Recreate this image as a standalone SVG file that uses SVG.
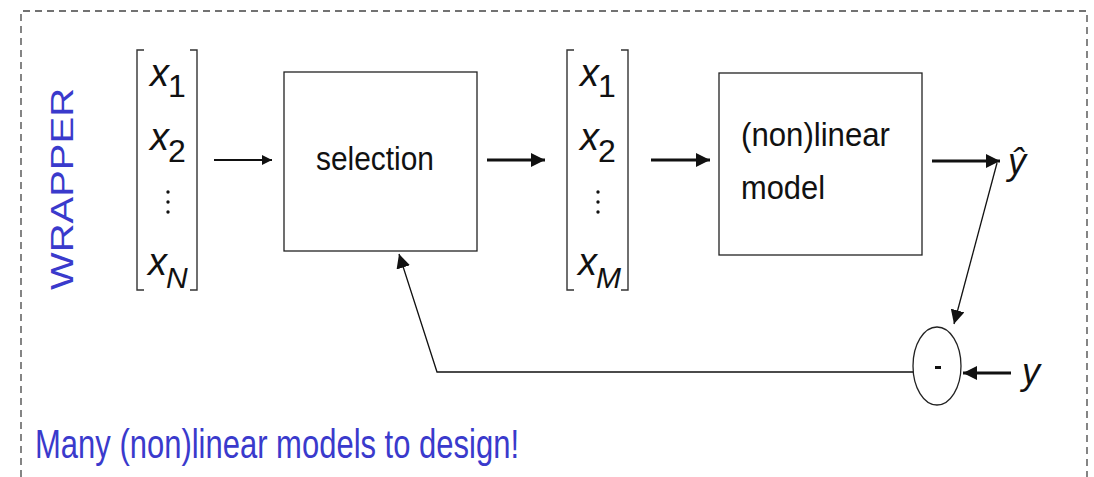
<svg xmlns="http://www.w3.org/2000/svg" width="1094" height="477" viewBox="0 0 1094 477">
  <style>
    .frame { fill: none; stroke: #444; stroke-width: 1.3; stroke-dasharray: 7 5; }
    .box { fill: #fff; stroke: #222; stroke-width: 1.3; }
    .brk { fill: none; stroke: #333; stroke-width: 1.4; }
    .lbl { font-family: "Liberation Sans", Arial, sans-serif; fill: #111; }
    .math { font-family: "Liberation Sans", Arial, sans-serif; font-style: italic; fill: #111; }
    .sub { font-family: "Liberation Sans", Arial, sans-serif; font-style: normal; fill: #111; }
    .blue { font-family: "Liberation Sans", Arial, sans-serif; fill: #3a3acc; }
    .wire { fill: none; stroke: #111; }
  </style>
  <defs>
    <marker id="ah" viewBox="0 0 10 10" refX="10" refY="5" markerWidth="10" markerHeight="10" markerUnits="userSpaceOnUse" orient="auto">
      <path d="M0,0 L10,5 L0,10 Z" fill="#111"/>
    </marker>
    <marker id="ahBig" viewBox="0 0 10 10" refX="10" refY="5" markerWidth="14" markerHeight="14" markerUnits="userSpaceOnUse" orient="auto">
      <path d="M0,0 L10,5 L0,10 Z" fill="#111"/>
    </marker>
  </defs>

  <rect width="1094" height="477" fill="#fff"/>

  <!-- dashed wrapper frame, open at the bottom -->
  <path class="frame" d="M21,477 L21,11 L1087,11 L1087,477"/>

  <text class="blue" font-size="31" transform="translate(73,290) rotate(-90)" textLength="202" lengthAdjust="spacingAndGlyphs">WRAPPER</text>

  <!-- input feature vector -->
  <g id="input-vector">
    <path class="brk" d="M144,50 L137,50 L137,290 L144,290"/>
    <path class="brk" d="M190,50 L197,50 L197,290 L190,290"/>
    <text class="math" font-size="38" x="150" y="86">x<tspan class="sub" font-size="32" dx="-1" dy="11">1</tspan></text>
    <text class="math" font-size="38" x="150" y="150">x<tspan class="sub" font-size="32" dx="-1" dy="12">2</tspan></text>
    <circle cx="168" cy="192" r="1.7" fill="#111"/>
    <circle cx="168" cy="202" r="1.7" fill="#111"/>
    <circle cx="168" cy="212" r="1.7" fill="#111"/>
    <text class="math" font-size="38" x="148" y="275">x<tspan font-size="30" dx="-1" dy="13">N</tspan></text>
  </g>

  <!-- selection block -->
  <g id="selection">
    <rect class="box" x="284" y="72" width="193" height="179"/>
    <text class="lbl" font-size="34" x="316" y="170" textLength="118" lengthAdjust="spacingAndGlyphs">selection</text>
  </g>

  <!-- selected feature vector -->
  <g id="selected-vector">
    <path class="brk" d="M574,50 L567,50 L567,290 L574,290"/>
    <path class="brk" d="M621,50 L628,50 L628,290 L621,290"/>
    <text class="math" font-size="38" x="580" y="86">x<tspan class="sub" font-size="32" dx="-1" dy="11">1</tspan></text>
    <text class="math" font-size="38" x="580" y="150">x<tspan class="sub" font-size="32" dx="-1" dy="12">2</tspan></text>
    <circle cx="598" cy="192" r="1.7" fill="#111"/>
    <circle cx="598" cy="202" r="1.7" fill="#111"/>
    <circle cx="598" cy="212" r="1.7" fill="#111"/>
    <text class="math" font-size="38" x="578" y="275">x<tspan font-size="30" dx="-1" dy="13">M</tspan></text>
  </g>

  <!-- model block -->
  <g id="model">
    <rect class="box" x="719" y="73" width="203" height="182"/>
    <text class="lbl" font-size="34" x="741" y="146" textLength="149" lengthAdjust="spacingAndGlyphs">(non)linear</text>
    <text class="lbl" font-size="34" x="741" y="199" textLength="84" lengthAdjust="spacingAndGlyphs">model</text>
  </g>

  <!-- output estimate -->
  <g id="y-hat">
    <text class="math" font-size="36" x="1008" y="174">ŷ</text>
  </g>

  <!-- comparison node -->
  <g id="subtract">
    <ellipse cx="937" cy="366" rx="24" ry="39" fill="#fff" stroke="#222" stroke-width="1.3"/>
    <rect x="935" y="366" width="6" height="3" fill="#111"/>
  </g>

  <!-- target -->
  <g id="y-target">
    <text class="math" font-size="36" x="1022" y="384">y</text>
  </g>

  <text class="blue" font-size="40" x="35" y="458" textLength="484" lengthAdjust="spacingAndGlyphs">Many (non)linear models to design!</text>

  <!-- connectors -->
  <g id="connectors">
    <line class="wire" stroke-width="2" x1="214" y1="160" x2="272" y2="160" marker-end="url(#ah)"/>
    <line class="wire" stroke-width="3" x1="487" y1="160" x2="545" y2="160" marker-end="url(#ahBig)"/>
    <line class="wire" stroke-width="3" x1="651" y1="160" x2="710" y2="160" marker-end="url(#ahBig)"/>
    <line class="wire" stroke-width="3" x1="932" y1="161" x2="1000" y2="161" marker-end="url(#ahBig)"/>
    <line class="wire" stroke-width="1.3" x1="997" y1="163" x2="954" y2="324" marker-end="url(#ahBig)"/>
    <line class="wire" stroke-width="3" x1="1011" y1="373" x2="963" y2="373" marker-end="url(#ahBig)"/>
    <path class="wire" stroke-width="1.3" d="M913,372 L437,372 L399,254" marker-end="url(#ahBig)"/>
  </g>
</svg>
